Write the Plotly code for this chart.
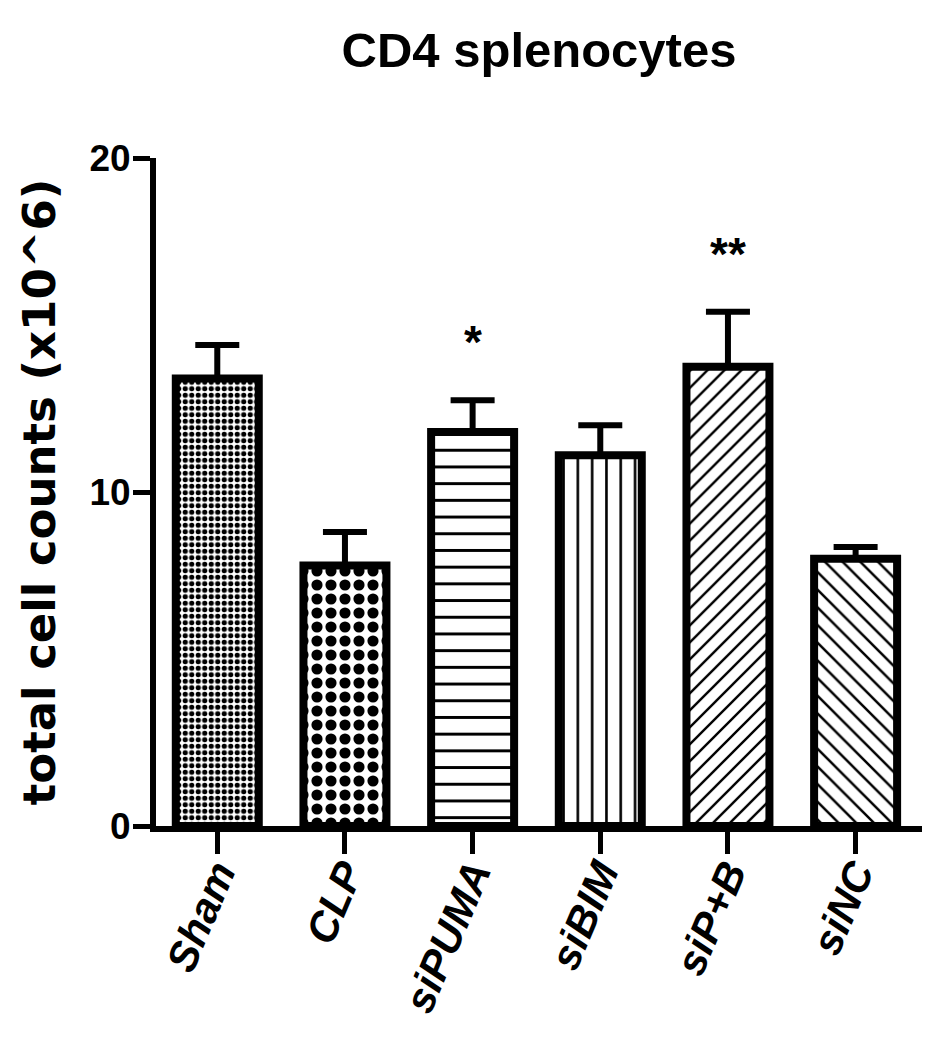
import plotly.graph_objects as go

# ---- data ----
groups = ["Sham", "CLP", "siPUMA", "siBIM", "siP+B", "siNC"]
mean_counts = [13.4, 7.8, 11.8, 11.1, 13.75, 8.0]
sem_counts = [1.0, 1.0, 0.95, 0.9, 1.65, 0.35]
significance = ["", "", "*", "", "**", ""]
y_ticks = [0, 10, 20]
title_text = "CD4 splenocytes"
y_title = "total cell counts (x10^6)"

# ---- styles ----
pattern_shapes = [".", ".", "-", "|", "/", "\\"]
pattern_sizes = [6.5, 14, 16.7, 14.3, 12, 12.5]
pattern_solid = [0.5, 0.5, 0.18, 0.18, 0.2, 0.2]

SANS = "Liberation Sans, Arial, sans-serif"

fig = go.Figure()
fig.add_trace(go.Bar(
    x=groups,
    y=mean_counts,
    width=0.65,
    marker=dict(
        color="white",
        line=dict(color="black", width=8),
        pattern=dict(shape=pattern_shapes, size=pattern_sizes, solidity=pattern_solid,
                     fgcolor="black", bgcolor="white", fgopacity=1),
    ),
    error_y=dict(type="data", array=sem_counts, arrayminus=[0] * len(sem_counts),
                 symmetric=False, color="black", thickness=6, width=22),
    showlegend=False,
))

for g, m, s, sig in zip(groups, mean_counts, sem_counts, significance):
    if sig:
        fig.add_annotation(x=g, y=m + s, text=sig, showarrow=False,
                           yanchor="bottom", yshift=30,
                           font=dict(family=SANS, size=46, color="black", weight="bold"))

fig.update_layout(
    width=934, height=1050,
    margin=dict(l=148, r=20, t=150, b=232),
    paper_bgcolor="white", plot_bgcolor="white",
    title=dict(text=title_text, x=0.5, xref="paper", xanchor="center",
               y=1 - 42 / 1050, yref="container", yanchor="middle",
               font=dict(family=SANS, size=49, color="black", weight="bold")),
    bargap=0.35,
)
fig.update_xaxes(
    range=[-0.48, 5.52], showline=True, linecolor="black", linewidth=6,
    ticks="outside", ticklen=22, tickwidth=5, tickcolor="black",
    tickangle=-67, showgrid=False, zeroline=False, automargin=False,
    ticklabelstandoff=-22,
    tickfont=dict(family=SANS, size=42, color="black", weight="bold", style="italic"),
)
fig.update_yaxes(
    range=[0, 20], tickvals=y_ticks, showline=True, linecolor="black", linewidth=6,
    ticks="outside", ticklen=17, tickwidth=5, tickcolor="black",
    showgrid=False, zeroline=False, automargin=False,
    ticklabelstandoff=-5,
    tickfont=dict(family=SANS, size=37, color="black", weight="bold"),
    title=dict(text=y_title, standoff=22,
               font=dict(family="DejaVu Sans, Verdana, sans-serif", size=45,
                         color="black", weight="bold")),
)

fig.write_html("out.html")
